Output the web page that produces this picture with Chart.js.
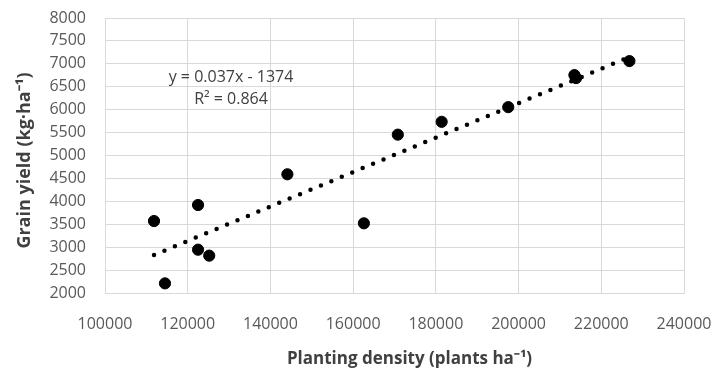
<!DOCTYPE html>
<html>
<head>
<meta charset="utf-8">
<script src="https://cdn.jsdelivr.net/npm/chart.js@4"></script>
<style>
html,body{margin:0;padding:0;background:#fff;}
#wrap{width:717px;height:372px;}
</style>
</head>
<body>
<div id="wrap"><canvas id="c" width="717" height="372"></canvas></div>
<script>
// Data
const densities = [111850, 114500, 122500, 122500, 125200, 144100, 162600, 170800, 181400, 197500, 213500, 213900, 226800];
const yields    = [3570, 2210, 3920, 2945, 2815, 4590, 3520, 5455, 5735, 6055, 6755, 6690, 7060];
const xTicks = [100000, 120000, 140000, 160000, 180000, 200000, 220000, 240000];
const yTicks = [2000, 2500, 3000, 3500, 4000, 4500, 5000, 5500, 6000, 6500, 7000, 7500, 8000];
const equationText = "y = 0.037x - 1374";
const r2Text = "R\u00B2 = 0.864";
const xTitle = "Planting density (plants ha\u207B\u00B9)";
const yTitle = "Grain yield (kg\u00B7ha\u207B\u00B9)";

// Least-squares trend line through the points
const n = densities.length;
const mx = densities.reduce((a,b)=>a+b,0)/n;
const my = yields.reduce((a,b)=>a+b,0)/n;
let sxy=0, sxx=0;
for (let i=0;i<n;i++){ sxy+=(densities[i]-mx)*(yields[i]-my); sxx+=(densities[i]-mx)**2; }
const slope = sxy/sxx, icpt = my - slope*mx;
const xmin = Math.min(...densities), xmax = Math.max(...densities);
const trend = [{x:xmin, y:slope*xmin+icpt},{x:xmax, y:slope*xmax+icpt}];

const FONT = "'Open Sans', sans-serif";
const GRID = '#d9d9d9';
const TXT = '#595959';
const TITLE = '#404040';

const overlay = {
  id:'overlay',
  afterDraw(chart){
    const ctx = chart.ctx, ca = chart.chartArea;
    ctx.save();
    ctx.fillStyle = TITLE;
    ctx.font = "16px " + FONT;
    ctx.textAlign = 'center';
    ctx.textBaseline = 'middle';
    ctx.fillText(equationText, ca.left + 126, ca.top + 59);
    ctx.fillText(r2Text, ca.left + 126, ca.top + 81);
    ctx.font = "bold 17px " + FONT;
    ctx.fillText(xTitle, (ca.left + ca.right)/2 + 15, 359);
    ctx.translate(25, (ca.top + ca.bottom)/2 + 5);
    ctx.rotate(-Math.PI/2);
    ctx.font = "bold 18px " + FONT;
    ctx.fillText(yTitle, 0, 0);
    ctx.restore();
  }
};

function noPad(s){ s.paddingTop = 0; s.paddingBottom = 0; s.paddingLeft = 0; s.paddingRight = 0; }

new Chart(document.getElementById('c'), {
  type:'scatter',
  data:{
    datasets:[
      {
        type:'line',
        data:trend,
        borderColor:'#000',
        borderWidth:4.5,
        borderDash:[0, 11.3],
        borderCapStyle:'round',
        pointRadius:0,
        fill:false,
        order:2
      },
      {
        data:densities.map((d,i)=>({x:d, y:yields[i]})),
        backgroundColor:'#000',
        borderColor:'#000',
        pointRadius:5.6,
        pointHoverRadius:5.6,
        order:1
      }
    ]
  },
  options:{
    responsive:false,
    devicePixelRatio:1,
    animation:false,
    layout:{padding:{left:0,right:33,top:18,bottom:0}},
    plugins:{legend:{display:false}, tooltip:{enabled:false}},
    scales:{
      x:{
        type:'linear',
        min:100000, max:240000,
        afterBuildTicks(s){ s.ticks = xTicks.map(v=>({value:v})); },
        afterFit(s){ s.height = 79; noPad(s); },
        grid:{color:GRID, lineWidth:1, drawTicks:false},
        border:{color:GRID, width:1},
        ticks:{color:TXT, font:{family:FONT, size:16}, padding:22, maxRotation:0, autoSkip:false,
               callback:v=>String(v)}
      },
      y:{
        min:2000, max:8000,
        afterBuildTicks(s){ s.ticks = yTicks.map(v=>({value:v})); },
        afterFit(s){ s.width = 105; noPad(s); },
        grid:{color:GRID, lineWidth:1, drawTicks:false},
        border:{color:GRID, width:1},
        ticks:{color:TXT, font:{family:FONT, size:16}, padding:19, autoSkip:false,
               callback:v=>String(v)}
      }
    }
  },
  plugins:[overlay]
});
</script>
</body>
</html>
